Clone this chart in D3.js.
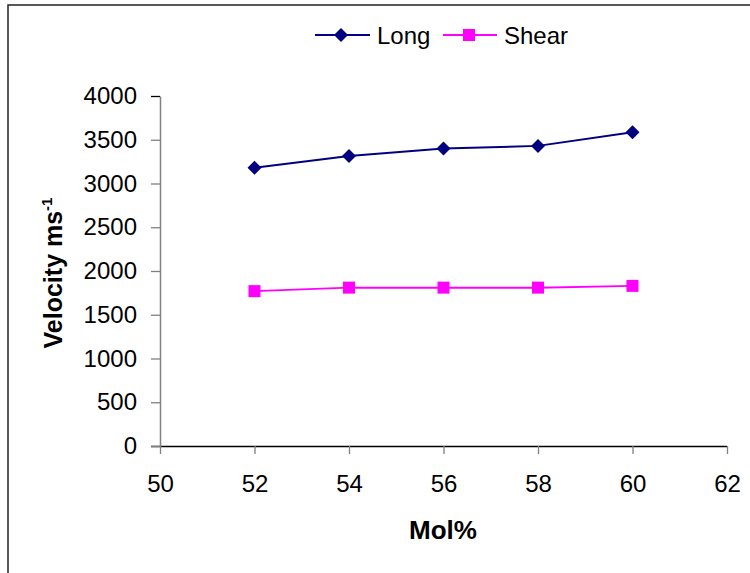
<!DOCTYPE html>
<html>
<head>
<meta charset="utf-8">
<script src="https://cdn.jsdelivr.net/npm/d3@7"></script>
<style>
  body { margin: 0; background: #fff; }
  text { font-family: "Liberation Sans", Arial, sans-serif; }
</style>
</head>
<body>
<div id="chart"></div>
<script>
// data
var molPct = [52, 54, 56, 58, 60];
var longVel = [3180, 3315, 3400, 3430, 3585];
var shearVel = [1770, 1810, 1810, 1810, 1830];
var xTicks = [50, 52, 54, 56, 58, 60, 62];
var yTicks = [0, 500, 1000, 1500, 2000, 2500, 3000, 3500, 4000];
var seriesNames = ["Long", "Shear"];

var width = 750,
    height = 573;

var svg = d3.select("#chart")
    .append("svg")
    .attr("width", width)
    .attr("height", height);

// outer frame (only top and left edges visible)
svg.append("path")
    .attr("d", "M8,573 L8,5 L750,5")
    .attr("fill", "none")
    .attr("stroke", "#222")
    .attr("stroke-width", 1.5);

var xScale = d3.scaleLinear().domain([50, 62]).range([160, 727]);
var yScale = d3.scaleLinear().domain([0, 4000]).range([446, 96]);

// x axis
var xAxis = d3.axisBottom(xScale)
    .tickValues(xTicks)
    .tickFormat(d3.format("d"))
    .tickSize(8)
    .tickPadding(21)
    .tickSizeOuter(0);
var gx = svg.append("g")
    .attr("transform", "translate(0," + yScale(0) + ")")
    .call(xAxis);
gx.select(".domain").attr("stroke", "#000").attr("stroke-width", 1.3)
    .attr("d", "M151,0.5H" + xScale(62));
gx.selectAll(".tick line").attr("stroke", "#808080").attr("stroke-width", 1.3);
gx.selectAll(".tick text")
    .attr("font-size", 24)
    .attr("fill", "#000")
    .style("font-family", "Liberation Sans, Arial, sans-serif");

// y axis
var yAxis = d3.axisLeft(yScale)
    .tickValues(yTicks)
    .tickFormat(d3.format("d"))
    .tickSize(9)
    .tickPadding(14)
    .tickSizeOuter(0);
var gy = svg.append("g")
    .attr("transform", "translate(" + xScale(50) + ",0)")
    .call(yAxis);
gy.select(".domain").attr("stroke", "#808080").attr("stroke-width", 1.5);
gy.selectAll(".tick line").attr("stroke", "#808080").attr("stroke-width", 1.3);
gy.selectAll(".tick text")
    .attr("font-size", 24)
    .attr("fill", "#000")
    .style("font-family", "Liberation Sans, Arial, sans-serif");
// top tick is dark in the picture
gy.selectAll(".tick line").filter(function(d) { return d === 4000; }).attr("stroke", "#000");

// lines
var line = d3.line()
    .x(function(d, i) { return xScale(molPct[i]); })
    .y(function(d) { return yScale(d); });

svg.append("path")
    .datum(longVel)
    .attr("fill", "none")
    .attr("stroke", "#000080")
    .attr("stroke-width", 2)
    .attr("d", line);

svg.append("path")
    .datum(shearVel)
    .attr("fill", "none")
    .attr("stroke", "#FF00FF")
    .attr("stroke-width", 2)
    .attr("d", line);

// markers
svg.selectAll("path.diamond")
    .data(longVel)
    .enter()
    .append("path")
    .attr("class", "diamond")
    .attr("fill", "#000080")
    .attr("d", "M0,-7L7,0L0,7L-7,0Z")
    .attr("transform", function(d, i) {
        return "translate(" + xScale(molPct[i]) + "," + yScale(d) + ")";
    });

svg.selectAll("rect.square")
    .data(shearVel)
    .enter()
    .append("rect")
    .attr("class", "square")
    .attr("fill", "#FF00FF")
    .attr("width", 12)
    .attr("height", 12)
    .attr("x", function(d, i) { return xScale(molPct[i]) - 6; })
    .attr("y", function(d) { return yScale(d) - 6; });

// legend
var legend = svg.append("g");
legend.append("line")
    .attr("x1", 315).attr("x2", 370).attr("y1", 35).attr("y2", 35)
    .attr("stroke", "#000080").attr("stroke-width", 2);
legend.append("path")
    .attr("d", "M0,-7L7,0L0,7L-7,0Z")
    .attr("fill", "#000080")
    .attr("transform", "translate(341,35)");
legend.append("text")
    .attr("x", 377).attr("y", 44)
    .attr("font-size", 24)
    .text(seriesNames[0]);

legend.append("line")
    .attr("x1", 443).attr("x2", 497).attr("y1", 35).attr("y2", 35)
    .attr("stroke", "#FF00FF").attr("stroke-width", 2);
legend.append("rect")
    .attr("x", 463).attr("y", 29).attr("width", 12).attr("height", 12)
    .attr("fill", "#FF00FF");
legend.append("text")
    .attr("x", 504).attr("y", 44)
    .attr("font-size", 24)
    .text(seriesNames[1]);

// axis titles
svg.append("text")
    .attr("x", 443).attr("y", 539)
    .attr("text-anchor", "middle")
    .attr("font-size", 26)
    .attr("font-weight", "bold")
    .text("Mol%");

var yTitle = svg.append("text")
    .attr("transform", "translate(62,273) rotate(-90)")
    .attr("text-anchor", "middle")
    .attr("font-size", 25)
    .attr("font-weight", "bold");
yTitle.append("tspan").text("Velocity ms");
yTitle.append("tspan")
    .attr("font-size", 15)
    .attr("dy", -10)
    .text("-1");
</script>
</body>
</html>
